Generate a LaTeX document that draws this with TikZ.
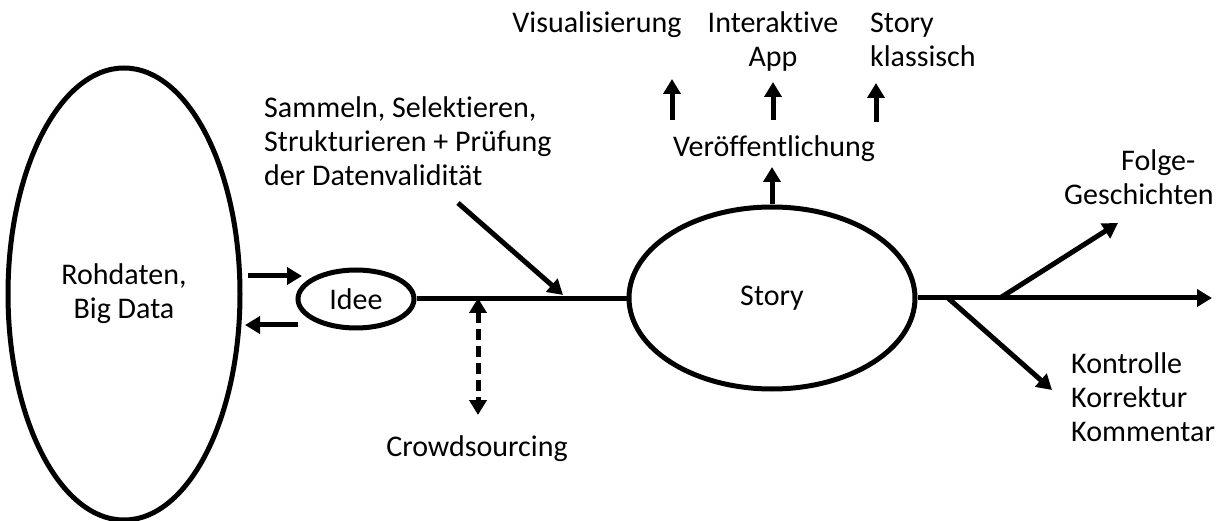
\documentclass[tikz,border=0pt]{standalone}
\usepackage{fontspec}
\setmainfont{Carlito}[Ligatures=NoCommon]
\usetikzlibrary{arrows.meta,shapes.geometric}
\tikzset{
  lbl/.style={inner sep=0pt, font=\fontsize{30}{34}\selectfont},
  oval/.style={draw, ellipse, line width=5pt, inner sep=0pt, font=\fontsize{30}{34}\selectfont},
  conn/.style={line width=5pt},
  arr/.style={line width=5pt, -{Triangle[width=17pt,length=15pt]}},
  darr/.style={line width=5pt, dash pattern=on 11pt off 6pt,
     {Triangle[width=17pt,length=15pt]}-{Triangle[width=17pt,length=15pt]}}
}
\begin{document}
\begin{tikzpicture}[x=1pt,y=-1pt]
\useasboundingbox (0,0) rectangle (1224,521);
% ovals
\node[oval, minimum width=232pt, minimum height=452pt, align=center] (big) at (124,294) {Rohdaten,\\Big Data};
\node[oval, minimum width=116pt, minimum height=58pt] (idee) at (356,299) {Idee};
\node[oval, minimum width=286pt, minimum height=182pt] (story) at (772,298) {Story};
% texts
\node[lbl, align=left, anchor=north west] (sammeln) at (264,94) {\strut Sammeln, Selektieren,\\\strut Strukturieren + Prüfung\\\strut der Datenvalidität};
\node[lbl, anchor=base] (crowd) at (477,456) {Crowdsourcing};
\node[lbl, anchor=base] (veroeff) at (774,157) {Veröffentlichung};
\node[lbl, anchor=base] (visual) at (597,33) {Visualisierung};
\node[lbl, align=center, anchor=north] (inter) at (773,9) {\strut Interaktive\\\strut App};
\node[lbl, align=left, anchor=north west] (klass) at (870,9) {\strut Story\\\strut klassisch};
\node[lbl, align=left, anchor=north west] (folge) at (1064,147) {\strut\hspace*{57pt}Folge-\\\strut Geschichten};
\node[lbl, align=left, anchor=north west] (kontr) at (1071,349) {\strut Kontrolle\\\strut Korrektur\\\strut Kommentar};
% coordinates
\coordinate (inA) at (248,276);
\coordinate (inB) at (302,276);
\coordinate (outA) at (298,325);
\coordinate (outB) at (245,325);
\coordinate (diagS) at (458,203);
\coordinate (diagE) at (563,295);
\coordinate (csTop) at (478,298);
\coordinate (csBot) at (478,415);
\coordinate (vTip) at (772,167);
\coordinate (t1a) at (672,120); \coordinate (t1b) at (672,79);
\coordinate (t2a) at (773,120); \coordinate (t2b) at (773,82);
\coordinate (t3a) at (876,122); \coordinate (t3b) at (876,83);
\coordinate (endTip) at (1212,298);
\coordinate (upS) at (1000,298);
\coordinate (upE) at (1118,223);
\coordinate (dnS) at (948,298);
\coordinate (dnE) at (1052,390);
% connectors
\draw[arr] (inA) -- (inB);
\draw[arr] (outA) -- (outB);
\draw[conn] (idee.east) -- (idee.east -| story.west);
\draw[arr] (diagS) -- (diagE);
\draw[darr] (csTop) -- (csBot);
\draw[arr] (story.north) -- (vTip);
\draw[arr] (t1a) -- (t1b);
\draw[arr] (t2a) -- (t2b);
\draw[arr] (t3a) -- (t3b);
\draw[arr] (story.east) -- (endTip);
\draw[arr] (upS) -- (upE);
\draw[arr] (dnS) -- (dnE);
\end{tikzpicture}
\end{document}
